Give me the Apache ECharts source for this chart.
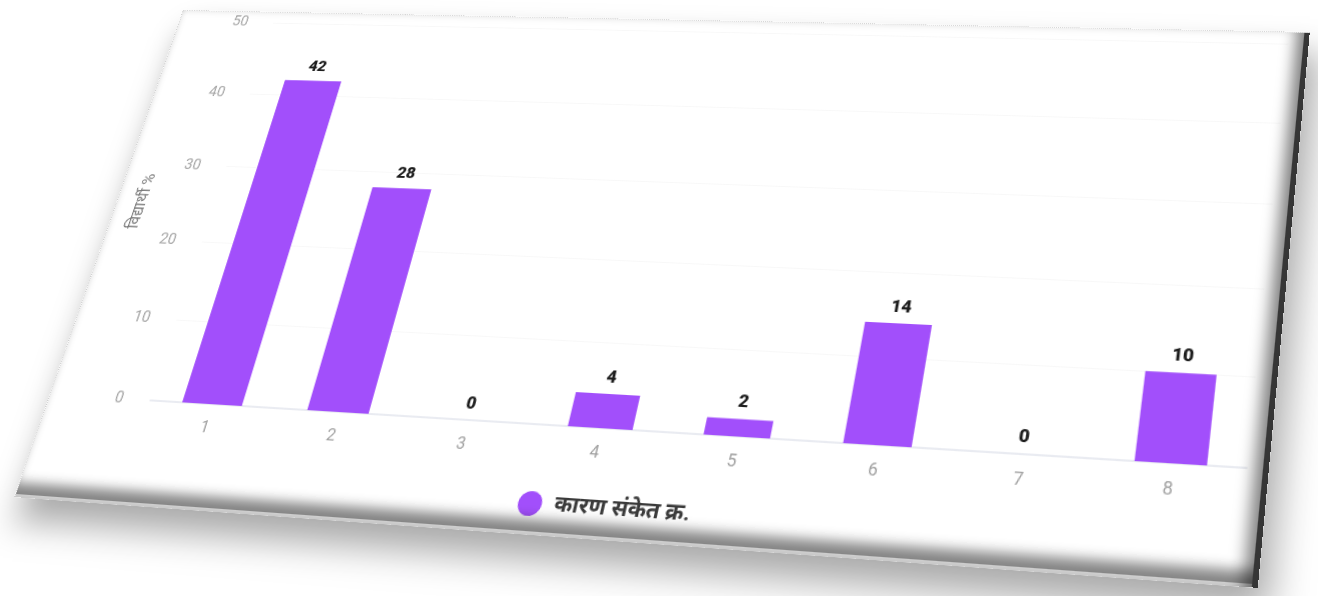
<!DOCTYPE html>
<html>
<head>
<meta charset="utf-8">
<script src="https://cdn.jsdelivr.net/npm/echarts@6/dist/echarts.min.js"></script>
<style>
  html, body { margin: 0; padding: 0; width: 1318px; height: 596px; overflow: hidden; background: #ffffff; }
  #card {
    position: absolute; left: 0; top: 0;
    width: 1180px; height: 530px;
    transform-origin: 0 0;
    background: #ffffff;
    box-shadow: 10px 22px 32px rgba(0,0,0,0.34);
  }
  #chart { position: absolute; left: 0; top: 0; width: 1180px; height: 530px; }
  #bevel {
    position: absolute; left: 0; top: 0; right: 0; bottom: 0;
    pointer-events: none;
    border-top: 1px dotted #d6d6d6;
    border-left: 1px dotted #cfcfcf;
    box-shadow:
      inset -5px 0 0 #363636,
      inset -20px 0 14px -8px rgba(0,0,0,0.5),
      inset 0 -3px 0 #d4d4d4,
      inset 0 -20px 12px -6px rgba(0,0,0,0.48);
  }
</style>
</head>
<body>
<div id="card">
  <div id="chart"></div>
  <div id="bevel"></div>
</div>
<script>
// Reason codes and share of students (%)
const categories = ['1', '2', '3', '4', '5', '6', '7', '8'];
const studentPercent = [42, 28, 0, 4, 2, 14, 0, 10];
const yTicks = { min: 0, max: 50, interval: 10 };
const seriesName = 'कारण संकेत क्र.';
const yAxisName = 'विद्यार्थी %';

// Tilted card: map the flat card onto a quadrilateral on screen
const CARD_W = 1180, CARD_H = 530;
const corners = [[183, 10], [1310, 32], [1258, 588], [14, 497]];

function quadMatrix(W, H, pts) {
  const [x0, y0] = pts[0], [x1, y1] = pts[1], [x2, y2] = pts[2], [x3, y3] = pts[3];
  const dx1 = x1 - x2, dx2 = x3 - x2, dx3 = x0 - x1 + x2 - x3;
  const dy1 = y1 - y2, dy2 = y3 - y2, dy3 = y0 - y1 + y2 - y3;
  const det = dx1 * dy2 - dx2 * dy1;
  const g = (dx3 * dy2 - dx2 * dy3) / det;
  const h = (dx1 * dy3 - dx3 * dy1) / det;
  const a = x1 - x0 + g * x1, b = x3 - x0 + h * x3, c = x0;
  const d = y1 - y0 + g * y1, e = y3 - y0 + h * y3, f = y0;
  const m = [a / W, d / W, 0, g / W,
             b / H, e / H, 0, h / H,
             0, 0, 1, 0,
             c, f, 0, 1];
  return 'matrix3d(' + m.join(',') + ')';
}
document.getElementById('card').style.transform = quadMatrix(CARD_W, CARD_H, corners);

const font = 'Roboto, "Noto Sans", "Liberation Sans", sans-serif';
const chart = echarts.init(document.getElementById('chart'), null, { renderer: 'canvas' });
chart.setOption({
  animation: false,
  textStyle: { fontFamily: font },
  grid: { left: 109, right: 19, top: 13, bottom: 103 },
  legend: {
    top: 485, left: 'center',
    icon: 'circle', itemWidth: 23, itemHeight: 23, itemGap: 10,
    textStyle: { fontFamily: font, fontSize: 21, fontWeight: 'bold', color: '#3a3a3a', padding: [0, 0, 0, 7] },
    data: [seriesName]
  },
  xAxis: {
    type: 'category',
    data: categories,
    axisLine: { show: true, lineStyle: { color: '#e4e6ee', width: 1.5 } },
    axisTick: { show: false },
    axisLabel: { margin: 16, fontSize: 16, color: '#a0a0a0' },
    splitLine: { show: false }
  },
  yAxis: {
    type: 'value',
    min: yTicks.min, max: yTicks.max, interval: yTicks.interval,
    name: yAxisName,
    nameLocation: 'middle',
    nameGap: 72,
    nameTextStyle: { fontSize: 17, color: '#7a7a7a' },
    axisLine: { show: false },
    axisTick: { show: false },
    axisLabel: { margin: 29, fontSize: 16, color: '#a6a6a6' },
    splitLine: { show: true, lineStyle: { color: '#f8f8f8', width: 1 } }
  },
  series: [{
    name: seriesName,
    type: 'bar',
    data: studentPercent,
    barWidth: '48%',
    itemStyle: { color: '#a24ffb' },
    label: {
      show: true, position: 'top', distance: 7,
      fontSize: 17, fontWeight: 900, color: '#1e1e1e'
    }
  }]
});
</script>
</body>
</html>
